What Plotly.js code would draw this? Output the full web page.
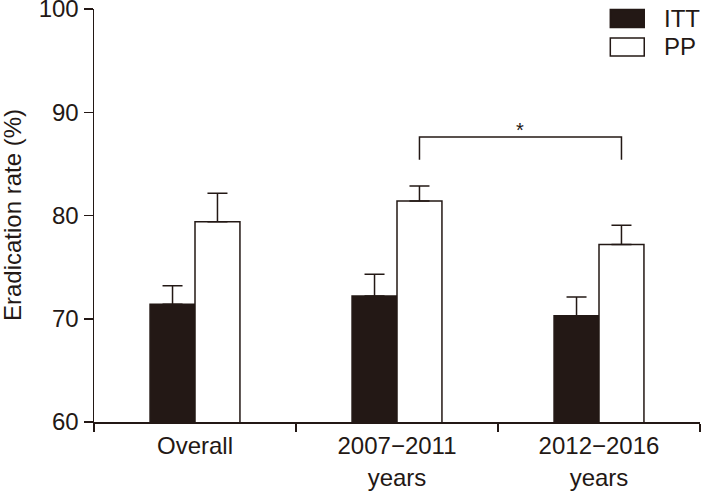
<!DOCTYPE html>
<html><head><meta charset="utf-8">
<script src="https://cdn.plot.ly/plotly-3.0.1.min.js"></script>
<style>html,body{margin:0;padding:0;background:#fff}</style>
</head><body><div id="chart" style="width:701px;height:491px"></div>
<script>
var categories = ["Overall", "2007\u22122011<br>years", "2012\u22122016<br>years"];
var ittValues = [71.4, 72.2, 70.3];
var ittErrors = [1.8, 2.1, 1.8];
var ppValues = [79.4, 81.4, 77.2];
var ppErrors = [2.75, 1.45, 1.85];
var seriesNames = ["ITT", "PP"];
var yTicks = [60, 70, 80, 90, 100];
var bracketPair = [1, 2];     // compared groups (PP bars)
var bracketLevels = [85.4, 87.6];
var sigLabel = "*";

var ink = "#231815";
var font = {family: "Liberation Sans, Arial, Helvetica, sans-serif", size: 24, color: ink};

var gap = 0.555;
var barW = (1 - gap) / 2;
var ppOffset = barW / 2;

var traces = [
  {type: "bar", name: seriesNames[0], x: categories, y: ittValues,
   marker: {color: ink, line: {color: ink, width: 1.5}},
   error_y: {type: "data", symmetric: false, array: ittErrors, arrayminus: [0,0,0], color: ink, thickness: 1.5, width: 10}},
  {type: "bar", name: seriesNames[1], x: categories, y: ppValues,
   marker: {color: "#ffffff", line: {color: ink, width: 1.5}},
   error_y: {type: "data", symmetric: false, array: ppErrors, arrayminus: [0,0,0], color: ink, thickness: 1.5, width: 10}}
];

var xa = bracketPair[0] + ppOffset, xb = bracketPair[1] + ppOffset;
var shapes = [
  {type: "path", xref: "x", yref: "y",
   path: "M " + xa + " " + bracketLevels[0] + " L " + xa + " " + bracketLevels[1] + " L " + xb + " " + bracketLevels[1] + " L " + xb + " " + bracketLevels[0],
   line: {color: ink, width: 1.5}},
  {type: "rect", xref: "paper", yref: "paper", x0: 0.852, x1: 0.908, y0: 0.955, y1: 0.999, fillcolor: ink, line: {color: ink, width: 1.5}},
  {type: "rect", xref: "paper", yref: "paper", x0: 0.852, x1: 0.908, y0: 0.886, y1: 0.930, fillcolor: "#ffffff", line: {color: ink, width: 1.5}}
];
var annotations = [
  {xref: "x", yref: "y", x: (xa + xb) / 2, y: bracketLevels[1], text: sigLabel, showarrow: false, yanchor: "bottom", yshift: -6, font: {family: font.family, size: 20, color: ink}},
  {xref: "paper", yref: "paper", x: 0.937, y: 0.977, text: seriesNames[0], showarrow: false, xanchor: "left", yanchor: "middle", font: font},
  {xref: "paper", yref: "paper", x: 0.937, y: 0.908, text: seriesNames[1], showarrow: false, xanchor: "left", yanchor: "middle", font: font},
  {xref: "paper", yref: "paper", x: -94/606, xanchor: "left", xshift: -3, y: 0.5, text: "Eradication rate (%)", textangle: -90, showarrow: false, font: font}
];

var layout = {
  width: 701, height: 491,
  margin: {l: 94, r: 1, t: 9, b: 69},
  paper_bgcolor: "#fff", plot_bgcolor: "#fff",
  font: font,
  showlegend: false,
  barmode: "group", bargap: gap, bargroupgap: 0,
  xaxis: {type: "category", range: [-0.5, 2.5], tickson: "boundaries", ticks: "outside", ticklen: 8, tickwidth: 1.5, tickcolor: ink,
          showline: true, linecolor: ink, linewidth: 1.5, showgrid: false, zeroline: false, tickfont: font, ticklabelstandoff: 2, automargin: false},
  yaxis: {range: [60, 100], tickmode: "array", tickvals: yTicks, ticktext: yTicks.map(String), ticks: "outside", ticklen: 9, tickwidth: 1.5, tickcolor: ink,
          showline: true, linecolor: ink, linewidth: 1.5, showgrid: false, zeroline: false, tickfont: font, ticklabelstandoff: 0,
          ticklabeloverflow: "allow", automargin: false},
  shapes: shapes,
  annotations: annotations
};
Plotly.newPlot("chart", traces, layout, {displayModeBar: false, staticPlot: true});
</script></body></html>
